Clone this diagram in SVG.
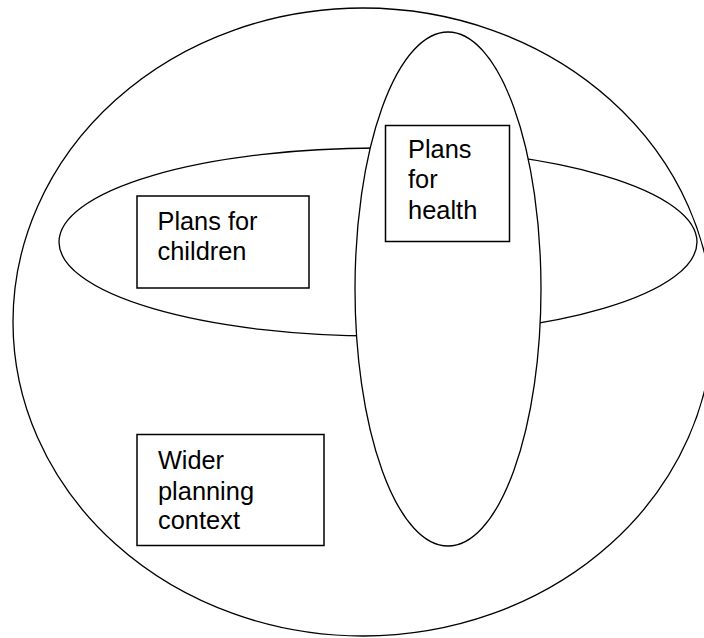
<svg xmlns="http://www.w3.org/2000/svg" width="704" height="638" viewBox="0 0 704 638">
<style>
.sh{fill:#fff;stroke:#000;stroke-width:1.3}
.bx{fill:#fff;stroke:#000;stroke-width:1.5}
.t{font-family:"Liberation Sans",Arial,sans-serif;font-size:25.5px;fill:#000}
</style>
<rect x="0" y="0" width="704" height="638" fill="#fff"/>
<g id="wider-context-area">
<ellipse class="sh" cx="363" cy="322" rx="350" ry="314"/>
</g>
<g id="children-area">
<ellipse class="sh" cx="378" cy="242" rx="319" ry="94"/>
</g>
<g id="health-area">
<ellipse class="sh" cx="448" cy="289" rx="93" ry="257"/>
</g>
<g id="connectors"></g>
<g id="plans-for-children">
<rect class="bx" x="137" y="196" width="172" height="92"/>
<text class="t" x="157.5" y="230" textLength="100" lengthAdjust="spacingAndGlyphs">Plans for</text>
<text class="t" x="157.5" y="260" textLength="89" lengthAdjust="spacingAndGlyphs">children</text>
</g>
<g id="plans-for-health">
<rect class="bx" x="385.5" y="125.5" width="124" height="116"/>
<text class="t" x="408" y="157.5" textLength="63.5" lengthAdjust="spacingAndGlyphs">Plans</text>
<text class="t" x="408" y="188" textLength="29.6" lengthAdjust="spacingAndGlyphs">for</text>
<text class="t" x="408" y="219" textLength="69.3" lengthAdjust="spacingAndGlyphs">health</text>
</g>
<g id="wider-planning-context">
<rect class="bx" x="137" y="434.5" width="187" height="111"/>
<text class="t" x="158" y="469" textLength="66" lengthAdjust="spacingAndGlyphs">Wider</text>
<text class="t" x="158" y="499.5" textLength="96" lengthAdjust="spacingAndGlyphs">planning</text>
<text class="t" x="158" y="529" textLength="82" lengthAdjust="spacingAndGlyphs">context</text>
</g>
</svg>
